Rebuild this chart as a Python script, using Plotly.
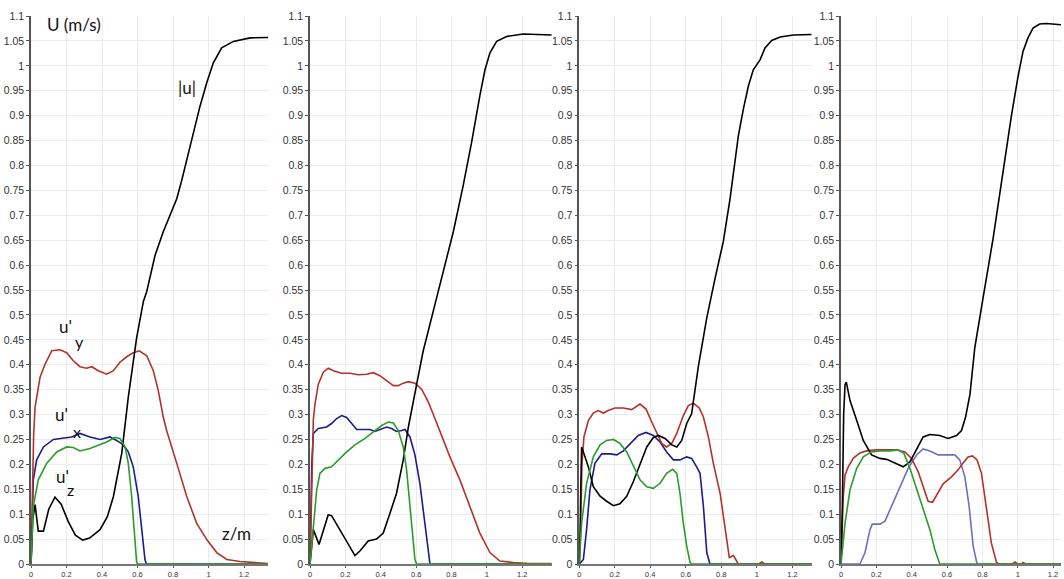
import plotly.graph_objects as go

# ---------------- data (z in m, velocities in m/s) ----------------
# Panel 1
p1_u_x = [0, 0.01, 0.023, 0.041, 0.07, 0.10, 0.135, 0.17, 0.21, 0.25, 0.291, 0.33, 0.389, 0.43, 0.464, 0.511, 0.535, 0.548, 0.595, 0.633, 0.652, 0.699, 0.745, 0.793, 0.821, 0.849, 0.896, 0.952, 0.99, 1.027, 1.074, 1.14, 1.234, 1.337]
p1_u_y = [0, 0.09, 0.119, 0.066, 0.066, 0.11, 0.134, 0.12, 0.085, 0.058, 0.048, 0.052, 0.069, 0.095, 0.135, 0.222, 0.295, 0.335, 0.454, 0.527, 0.547, 0.620, 0.667, 0.707, 0.733, 0.770, 0.840, 0.919, 0.966, 1.006, 1.036, 1.049, 1.056, 1.057]
p1_uy_x = [0, 0.008, 0.015, 0.023, 0.051, 0.079, 0.117, 0.163, 0.201, 0.238, 0.276, 0.313, 0.342, 0.379, 0.426, 0.464, 0.501, 0.539, 0.576, 0.610, 0.652, 0.689, 0.717, 0.745, 0.764, 0.821, 0.877, 0.933, 0.99, 1.046, 1.103, 1.177, 1.337]
p1_uy_y = [0, 0.12, 0.26, 0.315, 0.375, 0.401, 0.428, 0.430, 0.424, 0.408, 0.396, 0.393, 0.396, 0.388, 0.381, 0.388, 0.405, 0.416, 0.424, 0.428, 0.418, 0.388, 0.348, 0.295, 0.268, 0.202, 0.136, 0.082, 0.049, 0.023, 0.009, 0.005, 0.001]
p1_ux_x = [0, 0.006, 0.013, 0.032, 0.07, 0.126, 0.182, 0.229, 0.276, 0.332, 0.389, 0.445, 0.482, 0.520, 0.548, 0.576, 0.604, 0.624, 0.642, 0.65, 1.337]
p1_ux_y = [0, 0.1, 0.169, 0.209, 0.235, 0.250, 0.252, 0.255, 0.262, 0.255, 0.250, 0.255, 0.248, 0.239, 0.225, 0.195, 0.136, 0.069, 0.009, 0, 0]
p1_uz_x = [0, 0.006, 0.013, 0.041, 0.088, 0.145, 0.201, 0.238, 0.276, 0.332, 0.389, 0.426, 0.473, 0.501, 0.530, 0.548, 0.567, 0.580, 0.595, 0.604, 1.337]
p1_uz_y = [0, 0.06, 0.116, 0.169, 0.202, 0.225, 0.235, 0.234, 0.227, 0.232, 0.239, 0.245, 0.254, 0.252, 0.235, 0.202, 0.136, 0.069, 0.003, 0, 0]

# Panel 2
p2_u_x = [0, 0.019, 0.051, 0.103, 0.122, 0.188, 0.254, 0.282, 0.329, 0.376, 0.414, 0.452, 0.489, 0.527, 0.556, 0.603, 0.640, 0.697, 0.753, 0.810, 0.866, 0.913, 0.960, 0.989, 1.017, 1.055, 1.111, 1.205, 1.366]
p2_u_y = [0, 0.069, 0.039, 0.099, 0.097, 0.056, 0.017, 0.026, 0.046, 0.050, 0.062, 0.102, 0.142, 0.209, 0.275, 0.361, 0.428, 0.508, 0.587, 0.667, 0.760, 0.846, 0.940, 0.992, 1.026, 1.049, 1.059, 1.064, 1.062]
p2_uy_x = [0, 0.008, 0.019, 0.028, 0.047, 0.075, 0.103, 0.132, 0.179, 0.226, 0.273, 0.320, 0.358, 0.395, 0.433, 0.471, 0.499, 0.527, 0.556, 0.593, 0.631, 0.669, 0.697, 0.734, 0.791, 0.847, 0.904, 0.960, 1.017, 1.073, 1.149, 1.24, 1.366]
p2_uy_y = [0, 0.15, 0.29, 0.321, 0.361, 0.385, 0.393, 0.388, 0.383, 0.383, 0.380, 0.381, 0.384, 0.378, 0.368, 0.358, 0.358, 0.363, 0.366, 0.363, 0.351, 0.325, 0.300, 0.265, 0.215, 0.169, 0.116, 0.062, 0.023, 0.006, 0.003, 0.001, 0.001]
p2_ux_x = [0, 0.01, 0.019, 0.047, 0.094, 0.122, 0.151, 0.179, 0.207, 0.235, 0.264, 0.301, 0.339, 0.367, 0.405, 0.433, 0.461, 0.489, 0.518, 0.537, 0.565, 0.593, 0.621, 0.650, 0.669, 0.678, 1.366]
p2_ux_y = [0, 0.2, 0.262, 0.272, 0.275, 0.282, 0.292, 0.298, 0.294, 0.282, 0.270, 0.270, 0.270, 0.266, 0.272, 0.275, 0.272, 0.266, 0.268, 0.270, 0.255, 0.219, 0.162, 0.082, 0.023, 0, 0]
p2_uz_x = [0, 0.019, 0.038, 0.056, 0.085, 0.122, 0.151, 0.198, 0.254, 0.311, 0.358, 0.405, 0.442, 0.471, 0.499, 0.527, 0.546, 0.565, 0.580, 0.593, 0.602, 1.366]
p2_uz_y = [0, 0.069, 0.149, 0.182, 0.192, 0.195, 0.205, 0.222, 0.239, 0.252, 0.265, 0.278, 0.285, 0.283, 0.268, 0.235, 0.189, 0.122, 0.056, 0.009, 0, 0]

# Panel 3
p3_u_x = [0, 0.006, 0.013, 0.023, 0.051, 0.079, 0.117, 0.154, 0.192, 0.229, 0.267, 0.304, 0.342, 0.380, 0.417, 0.445, 0.483, 0.521, 0.549, 0.577, 0.605, 0.633, 0.670, 0.718, 0.765, 0.811, 0.849, 0.877, 0.896, 0.924, 0.952, 0.980, 1.018, 1.046, 1.084, 1.131, 1.206, 1.309]
p3_u_y = [0, 0.15, 0.235, 0.225, 0.195, 0.155, 0.136, 0.126, 0.117, 0.121, 0.136, 0.165, 0.202, 0.235, 0.254, 0.258, 0.252, 0.239, 0.235, 0.248, 0.282, 0.302, 0.395, 0.494, 0.574, 0.647, 0.733, 0.813, 0.860, 0.913, 0.959, 0.992, 1.012, 1.036, 1.051, 1.058, 1.062, 1.063]
p3_uy_x = [0, 0.008, 0.015, 0.026, 0.051, 0.079, 0.107, 0.135, 0.163, 0.201, 0.248, 0.295, 0.342, 0.376, 0.408, 0.436, 0.464, 0.492, 0.521, 0.549, 0.586, 0.614, 0.642, 0.676, 0.699, 0.727, 0.755, 0.793, 0.821, 0.845, 0.868, 0.880, 0.896, 1.01, 1.028, 1.045, 1.309]
p3_uy_y = [0, 0.082, 0.2, 0.255, 0.288, 0.303, 0.308, 0.303, 0.308, 0.313, 0.313, 0.310, 0.321, 0.311, 0.285, 0.262, 0.242, 0.235, 0.242, 0.262, 0.298, 0.318, 0.323, 0.313, 0.295, 0.255, 0.202, 0.142, 0.069, 0.013, 0.017, 0.010, 0, 0, 0.004, 0, 0]
p3_ux_x = [0, 0.023, 0.041, 0.060, 0.088, 0.126, 0.173, 0.211, 0.248, 0.286, 0.332, 0.376, 0.417, 0.455, 0.492, 0.530, 0.567, 0.605, 0.633, 0.661, 0.680, 0.699, 0.718, 0.736, 1.309]
p3_ux_y = [0, 0.009, 0.069, 0.149, 0.202, 0.221, 0.221, 0.219, 0.227, 0.242, 0.258, 0.264, 0.258, 0.245, 0.225, 0.209, 0.209, 0.215, 0.212, 0.195, 0.182, 0.116, 0.023, 0, 0]
p3_uz_x = [0, 0.013, 0.041, 0.079, 0.117, 0.154, 0.192, 0.229, 0.267, 0.304, 0.342, 0.380, 0.417, 0.455, 0.492, 0.526, 0.549, 0.567, 0.586, 0.605, 0.624, 0.633, 1.309]
p3_uz_y = [0, 0.082, 0.162, 0.215, 0.239, 0.248, 0.250, 0.242, 0.225, 0.199, 0.169, 0.155, 0.152, 0.162, 0.182, 0.190, 0.182, 0.142, 0.082, 0.036, 0.003, 0, 0]

# Panel 4
p4_u_x = [0, 0.008, 0.015, 0.023, 0.03, 0.051, 0.089, 0.126, 0.173, 0.220, 0.258, 0.305, 0.352, 0.390, 0.428, 0.465, 0.503, 0.559, 0.606, 0.654, 0.682, 0.705, 0.730, 0.757, 0.804, 0.861, 0.917, 0.964, 1.002, 1.030, 1.058, 1.087, 1.124, 1.162, 1.26]
p4_u_y = [0, 0.12, 0.3, 0.36, 0.365, 0.328, 0.288, 0.248, 0.219, 0.212, 0.210, 0.202, 0.195, 0.205, 0.232, 0.255, 0.260, 0.258, 0.252, 0.258, 0.268, 0.295, 0.341, 0.434, 0.534, 0.654, 0.787, 0.899, 0.979, 1.029, 1.056, 1.076, 1.084, 1.085, 1.082]
p4_uy_x = [0, 0.013, 0.023, 0.041, 0.069, 0.107, 0.145, 0.201, 0.258, 0.315, 0.362, 0.399, 0.437, 0.465, 0.493, 0.518, 0.541, 0.578, 0.625, 0.663, 0.691, 0.719, 0.744, 0.770, 0.795, 0.823, 0.851, 0.880, 0.894, 0.97, 0.985, 1.0, 1.02, 1.03, 1.045, 1.26]
p4_uy_y = [0, 0.136, 0.179, 0.195, 0.212, 0.223, 0.227, 0.229, 0.229, 0.229, 0.225, 0.212, 0.185, 0.155, 0.126, 0.124, 0.139, 0.161, 0.175, 0.189, 0.203, 0.215, 0.217, 0.209, 0.182, 0.116, 0.042, 0.003, 0, 0, 0.004, 0, 0, 0.003, 0, 0]
p4_ux_x = [0, 0.107, 0.136, 0.164, 0.177, 0.220, 0.249, 0.286, 0.333, 0.380, 0.428, 0.465, 0.503, 0.550, 0.597, 0.644, 0.672, 0.701, 0.725, 0.748, 0.770, 1.26]
p4_ux_y = [0, 0, 0.023, 0.069, 0.080, 0.080, 0.086, 0.116, 0.155, 0.192, 0.219, 0.231, 0.227, 0.219, 0.219, 0.219, 0.209, 0.175, 0.116, 0.036, 0, 0]
p4_uz_x = [0, 0.023, 0.051, 0.089, 0.126, 0.173, 0.220, 0.277, 0.324, 0.356, 0.390, 0.428, 0.465, 0.503, 0.531, 0.559, 1.26]
p4_uz_y = [0, 0.082, 0.149, 0.192, 0.215, 0.225, 0.227, 0.227, 0.229, 0.222, 0.192, 0.152, 0.112, 0.069, 0.029, 0, 0]

x_ranges = [1.335, 1.366, 1.309, 1.245]
y_tick_vals = [0, 0.05, 0.1, 0.15, 0.2, 0.25, 0.3, 0.35, 0.4, 0.45, 0.5, 0.55, 0.6, 0.65, 0.7, 0.75, 0.8, 0.85, 0.9, 0.95, 1, 1.05, 1.1]
y_tick_text = ["0", "0.05", "0.1", "0.15", "0.2", "0.25", "0.3", "0.35", "0.4", "0.45", "0.5", "0.55", "0.6", "0.65", "0.7", "0.75", "0.8", "0.85", "0.9", "0.95", "1", "1.05", "1.1"]
x_tick_vals = [0, 0.2, 0.4, 0.6, 0.8, 1.0, 1.2]
x_tick_text = ["0", "0.2", "0.4", "0.6", "0.8", "1", "1.2"]

panels = [
    dict(u=(p1_u_x, p1_u_y), uy=(p1_uy_x, p1_uy_y), ux=(p1_ux_x, p1_ux_y), uz=(p1_uz_x, p1_uz_y), uxcol="#1c1c8a"),
    dict(u=(p2_u_x, p2_u_y), uy=(p2_uy_x, p2_uy_y), ux=(p2_ux_x, p2_ux_y), uz=(p2_uz_x, p2_uz_y), uxcol="#1c1c8a"),
    dict(u=(p3_u_x, p3_u_y), uy=(p3_uy_x, p3_uy_y), ux=(p3_ux_x, p3_ux_y), uz=(p3_uz_x, p3_uz_y), uxcol="#1c1c8a"),
    dict(u=(p4_u_x, p4_u_y), uy=(p4_uy_x, p4_uy_y), ux=(p4_ux_x, p4_ux_y), uz=(p4_uz_x, p4_uz_y), uxcol="#6f6fc0"),
]

# ---------------- layout geometry ----------------
W, H = 1064, 579
TOP, BOT = 16, 564
domains_px = [(31, 268), (310, 551.7), (579.3, 811.7), (841, 1061)]

RED = "#b3322b"
GREEN = "#2c9b2c"
BLACK = "#000000"

fig = go.Figure()
layout = {}
for i, p in enumerate(panels):
    n = "" if i == 0 else str(i + 1)
    xa, ya = "x" + n, "y" + n
    fig.add_trace(go.Scatter(x=p["ux"][0], y=p["ux"][1], mode="lines", line=dict(color=p["uxcol"], width=1.6), xaxis=xa, yaxis=ya, showlegend=False))
    fig.add_trace(go.Scatter(x=p["uy"][0], y=p["uy"][1], mode="lines", line=dict(color=RED, width=1.6), xaxis=xa, yaxis=ya, showlegend=False))
    fig.add_trace(go.Scatter(x=p["u"][0], y=p["u"][1], mode="lines", line=dict(color=BLACK, width=1.6), xaxis=xa, yaxis=ya, showlegend=False))
    fig.add_trace(go.Scatter(x=p["uz"][0], y=p["uz"][1], mode="lines", line=dict(color=GREEN, width=1.6), xaxis=xa, yaxis=ya, showlegend=False))
    d0, d1 = domains_px[i]
    layout["xaxis" + n] = dict(
        domain=[d0 / W, min(d1 / W, 1.0)], range=[0, x_ranges[i]], anchor=ya, automargin=False,
        tickvals=x_tick_vals, ticktext=x_tick_text, ticks="outside", ticklen=2, tickcolor="#555",
        ticklabelstandoff=0,
        showgrid=True, gridcolor="#ececec", gridwidth=1, zeroline=False,
        showline=True, linecolor="#777", linewidth=1.5,
        tickfont=dict(family="Liberation Sans, Arial, sans-serif", size=7.5, color="#333"),
    )
    layout["yaxis" + n] = dict(
        domain=[0, 1], range=[0, 1.1], anchor=xa, automargin=False,
        tickvals=y_tick_vals, ticktext=y_tick_text, ticks="outside", ticklen=3, tickcolor="#555",
        showgrid=True, gridcolor="#ececec", gridwidth=1, zeroline=False,
        showline=True, linecolor="#555", linewidth=1.5,
        tickfont=dict(family="Liberation Sans, Arial, sans-serif", size=10.5, color="#333"),
    )

ann_font = dict(family="Lato, Open Sans, sans-serif", size=17, color="#111")
sub_font = dict(family="Lato, Open Sans, sans-serif", size=16, color="#111")
# (text, x_px, y_px, font, xanchor)
annotations = [
    ("U (m/s)", 45, 25, ann_font, "left"),
    ("|u|", 187, 88, ann_font, "center"),
    ("u'", 65, 326, ann_font, "center"),
    ("y", 79, 341, sub_font, "center"),
    ("u'", 61, 414, ann_font, "center"),
    ("x", 77, 431, sub_font, "center"),
    ("u'", 62, 476, ann_font, "center"),
    ("z", 70, 489, sub_font, "center"),
    ("z/m", 236, 533, ann_font, "center"),
]
ann_list = []
for text, xp, yp, fnt, xanc in annotations:
    ann_list.append(dict(text=text, x=xp / W, y=(BOT - yp) / (BOT - TOP), xref="paper", yref="paper",
                         xanchor=xanc, yanchor="middle", showarrow=False, font=fnt))

fig.update_layout(
    width=W, height=H,
    margin=dict(l=0, r=0, t=TOP, b=H - BOT, autoexpand=False),
    paper_bgcolor="white", plot_bgcolor="white",
    annotations=ann_list,
    **layout,
)

fig.write_html("out.html")
